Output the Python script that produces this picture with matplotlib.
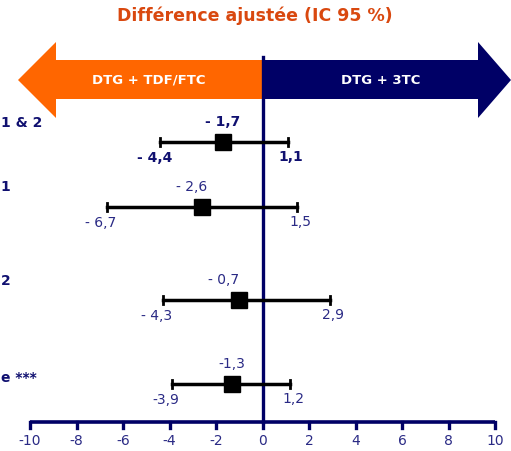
import matplotlib.pyplot as plt
from matplotlib.patches import Polygon

# forest plot values (difference ajustee, IC 95 %)
# row labels are cut off by the left edge of the source slide: keep the visible part
rows = ["1 & 2", "1", "2", "e ***"]
points = [-1.7, -2.6, -1.0, -1.3]
lows = [-4.4, -6.7, -4.3, -3.9]
highs = [1.1, 1.5, 2.9, 1.2]
point_txt = ["- 1,7", "- 2,6", "- 0,7", "-1,3"]
low_txt = ["- 4,4", "- 6,7", "- 4,3", "-3,9"]
high_txt = ["1,1", "1,5", "2,9", "1,2"]
ticks = [-10, -8, -6, -4, -2, 0, 2, 4, 6, 8, 10]

ORANGE = "#ff6600"
NAVY = "#000066"
TXT = "#2a2a85"

fig = plt.figure(figsize=(5.11, 4.51), dpi=100)
ax = fig.add_axes([0, 0, 1, 1])
# x in data units, y in pixel rows from the top
ax.set_xlim(-10 - 30 / 23.25, 10 + 16 / 23.25)
ax.set_ylim(451, 0)
ax.axis("off")

px = 1 / 23.25  # one pixel in x data units
row_y = [142, 207, 300, 384]
label_y = [123, 187, 281, 378]
pt_dx = [0, -10, -16, 0]

# arrows
ax.add_patch(Polygon([(0, 60), (-10 + 26 * px, 60), (-10 + 26 * px, 42), (-10 - 12 * px, 80),
                      (-10 + 26 * px, 118), (-10 + 26 * px, 99), (0, 99)],
                     closed=True, facecolor=ORANGE, edgecolor="none"))
ax.add_patch(Polygon([(0, 60), (10 - 17 * px, 60), (10 - 17 * px, 42), (10 + 16 * px, 80),
                      (10 - 17 * px, 118), (10 - 17 * px, 99), (0, 99)],
                     closed=True, facecolor=NAVY, edgecolor="none"))
ax.text(-4.9, 80, "DTG + TDF/FTC", color="white", fontsize=9.5, fontweight="bold",
        ha="center", va="center")
ax.text(5.1, 80, "DTG + 3TC", color="white", fontsize=9.5, fontweight="bold",
        ha="center", va="center")

ax.text(-0.35, 16, "Différence ajustée (IC 95 %)", color="#d9480f", fontsize=12.5,
        fontweight="bold", ha="center", va="center")

# zero line and x axis
ax.plot([0, 0], [57, 422], color=NAVY, lw=2.4, zorder=2)
ax.plot([ticks[0], ticks[-1]], [422, 422], color=NAVY, lw=2.6, solid_capstyle="butt", zorder=2)
for t in ticks:
    ax.plot([t, t], [422, 428], color=NAVY, lw=2.4, zorder=2)
    ax.text(t, 441, str(t), color=TXT, fontsize=10, ha="center", va="center")

for i, y in enumerate(row_y):
    bold = "bold" if i == 0 else "normal"
    col = "#101070" if i == 0 else TXT
    ax.plot([lows[i], highs[i]], [y, y], color="black", lw=2.5, zorder=3)
    for e in (lows[i], highs[i]):
        ax.plot([e, e], [y - 4, y + 4], color="black", lw=2, zorder=3)
    ax.plot(points[i], y, marker="s", color="black", markersize=12, zorder=4)
    ax.text(points[i] + pt_dx[i] * px, y - 20, point_txt[i], color=col, fontsize=10,
            fontweight=bold, ha="center", va="center")
    ax.text(lows[i] - 6 * px, y + 16, low_txt[i], color=col, fontsize=10,
            fontweight=bold, ha="center", va="center")
    ax.text(highs[i] + 3 * px, y + 15, high_txt[i], color=col, fontsize=10,
            fontweight=bold, ha="center", va="center")
    ax.text(0.001, 1 - label_y[i] / 451, rows[i], transform=ax.transAxes, color="#101070",
            fontsize=10, fontweight="bold", ha="left", va="center")

fig.savefig("out.png", dpi=100)
